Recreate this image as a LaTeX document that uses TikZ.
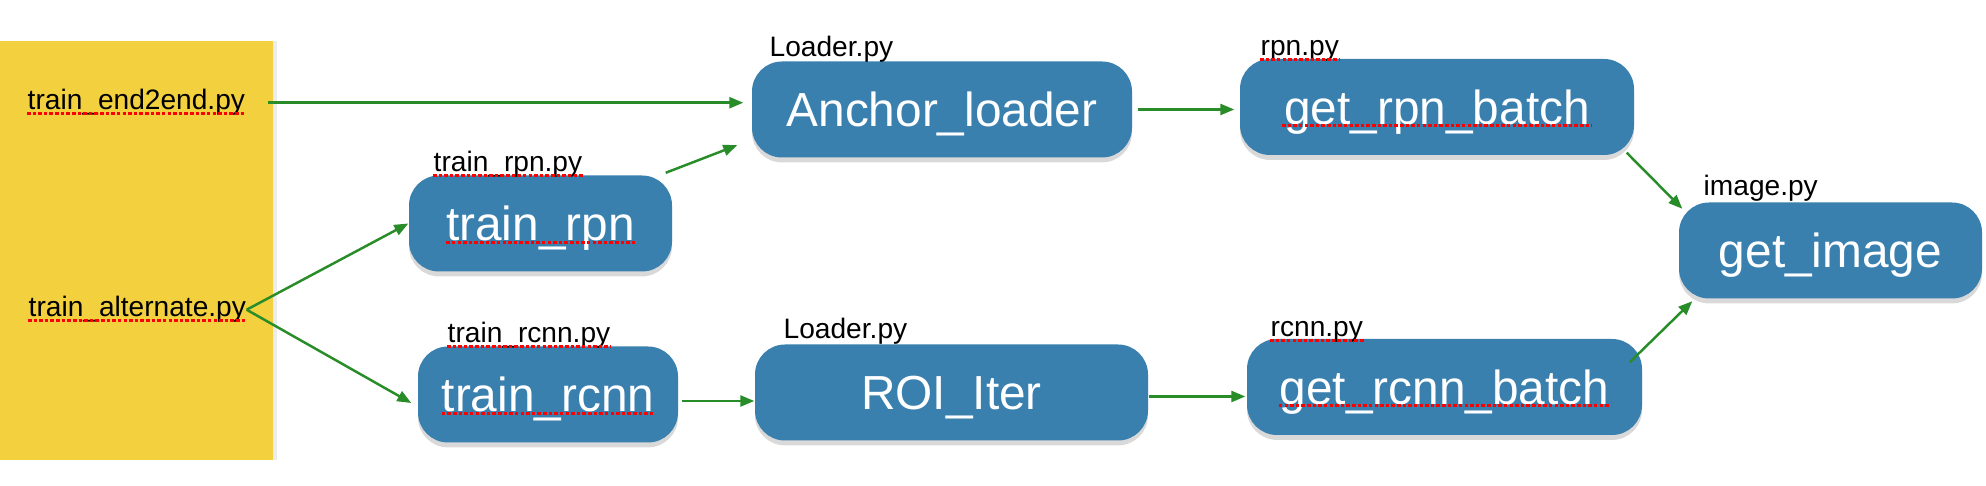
\documentclass[tikz,border=0pt]{standalone}
\usepackage{fontspec}
\setmainfont{Liberation Sans}
\usetikzlibrary{arrows.meta,shadows}
\definecolor{padyellow}{RGB}{243,208,62}
\definecolor{boxblue}{RGB}{57,128,175}
\definecolor{flowgreen}{RGB}{40,140,40}

\begin{document}
\begin{tikzpicture}[
  blk/.style={fill=boxblue, rounded corners=0.3cm, minimum height=0.96cm, text=white,
    font=\fontsize{13.6}{16}\selectfont, text height=9.7pt, text depth=0pt,
    drop shadow={shadow xshift=0pt, shadow yshift=-1.4pt, opacity=0.3}},
  lbl/.style={anchor=base west, inner sep=0pt, font=\fontsize{8}{9.6}\selectfont},
  flow/.style={draw=flowgreen, line width=0.7pt, -{Triangle[length=0.14cm, width=0.11cm]}},
  spell/.style={draw=red, line width=0.85pt, dash pattern=on 1pt off 0.6pt},
]
\useasboundingbox (0,0) rectangle (19.86,-4.86);
\fill [padyellow, drop shadow={shadow xshift=1pt, shadow yshift=0pt, opacity=0.15}] (0,-0.41) rectangle (2.73,-4.60);

\node (e2e) at (0.27,-1.10) [lbl] {train\_end2end.py};
\node (alt) at (0.28,-3.17) [lbl] {train\_alternate.py};

\node (anchor) at (9.42,-1.095) [blk, minimum width=3.80cm] {Anchor\_loader};
\node (trpn) at (5.405,-2.235) [blk, minimum width=2.63cm] {train\_rpn};
\node (trcnn) at (5.48,-3.945) [blk, minimum width=2.60cm] {train\_rcnn};
\node (roi) at (9.515,-3.925) [blk, minimum width=3.93cm] {ROI\_Iter};
\node (getrpn) at (14.37,-1.07) [blk, minimum width=3.94cm] {get\_rpn\_batch};
\node (getrcnn) at (14.445,-3.87) [blk, minimum width=3.95cm] {get\_rcnn\_batch};
\node (img) at (18.305,-2.505) [blk, minimum width=3.03cm] {get\_image};

\node (ldra) at (7.69,-0.57) [lbl] {Loader.py};
\node (trpnpy) at (4.33,-1.72) [lbl] {train\_rpn.py};
\node (trcnnpy) at (4.47,-3.43) [lbl] {train\_rcnn.py};
\node (ldrb) at (7.83,-3.39) [lbl] {Loader.py};
\node (rpnpy) at (12.60,-0.56) [lbl] {rpn.py};
\node (rcnnpy) at (12.70,-3.37) [lbl] {rcnn.py};
\node (imgpy) at (17.03,-1.96) [lbl] {image.py};

% red spell-check marks
\foreach \n in {e2e,alt,trpnpy,trcnnpy,rpnpy,rcnnpy}
  \draw [spell] ([yshift=-1pt]\n.base west) -- ([yshift=-1pt]\n.base east);
\foreach \n/\w in {trpn/26.8pt,trcnn/30.2pt,getrpn/44.1pt,getrcnn/47.1pt}
  \draw [spell] ([xshift=-\w,yshift=-0.5pt]\n.base) -- ([xshift=\w,yshift=-0.5pt]\n.base);

\draw [flow, shorten <=0.22cm, shorten >=0.08cm] (e2e.east) -- (e2e.east -| anchor.west);
\draw [flow] (alt.east) -- (trpn.west);
\draw [flow] (alt.east) -- ([xshift=-0.06cm,yshift=-0.085cm]trcnn.west);
\draw [flow] ([xshift=-0.07cm,yshift=0.02cm]trpn.north east) -- ([xshift=-0.14cm,yshift=0.13cm]anchor.south west);
\draw [flow, shorten <=0.05cm, shorten >=0.05cm] (anchor.east) -- (anchor.east -| getrpn.west);
\draw [flow] ([xshift=-0.08cm,yshift=0.03cm]getrpn.south east) -- ([xshift=0.04cm,yshift=-0.07cm]img.north west);
\draw [flow, shorten <=0.03cm] ([yshift=-0.065cm]trcnn.east) -- ([yshift=-0.065cm]trcnn.east -| roi.west);
\draw [flow, shorten >=0.01cm] ([yshift=-0.04cm]roi.east) -- ([yshift=-0.04cm]roi.east -| getrcnn.west);
\draw [flow] ([xshift=-0.13cm,yshift=-0.24cm]getrcnn.north east) -- ([xshift=0.14cm,yshift=-0.02cm]img.south west);
\end{tikzpicture}
\end{document}
